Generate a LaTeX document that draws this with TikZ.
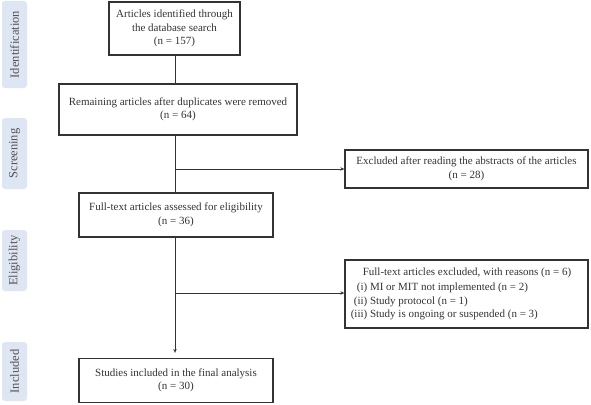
\documentclass[tikz,border=0pt]{standalone}
\usepackage{fontspec}
\setmainfont{Liberation Serif}
\usetikzlibrary{arrows.meta}
\definecolor{phase}{HTML}{DFE6F3}
\definecolor{ink}{HTML}{333333}
\tikzset{
  flowbox/.style={draw=ink,line width=1.3pt,text=ink,align=center,inner sep=2pt,
    font=\fontsize{11}{13.5}\selectfont},
  phasebox/.style={fill=phase,rounded corners=3pt,rotate=90,text=ink!85,
    minimum height=25pt,inner sep=0pt,font=\fontsize{12.5}{14}\selectfont},
  link/.style={draw=ink,line width=0.8pt},
}
\begin{document}
\begin{tikzpicture}[x=1pt,y=-1pt]
\useasboundingbox (0,0) rectangle (591,404);
% phases on the left
\foreach \y/\len/\name/\txt in {44.5/87/ident/Identification,153.5/71/screen/Screening,260.5/61/elig/Eligibility,371.5/59/incl/Included}
{
\node[phasebox,minimum width=\len pt] (\name) at (14.5,\y) {\txt};
}
% main column
\node[flowbox,minimum width=131pt,minimum height=53pt] (found) at (174.5,28.5) {Articles identified through\\the database search\\(n = 157)};
\node[flowbox,minimum width=238pt,minimum height=51pt] (dedup) at (178,109.5) {Remaining articles after duplicates were removed\\(n = 64)};
\node[flowbox,minimum width=194pt,minimum height=44pt] (full) at (176,215) {Full-text articles assessed for eligibility\\(n = 36)};
\node[flowbox,minimum width=194pt,minimum height=44pt] (final) at (176,380.5) {Studies included in the final analysis\\(n = 30)};
% exclusions
\node[flowbox,minimum width=243pt,minimum height=38pt] (exabs) at (466.5,169) {Excluded after reading the abstracts of the articles\\(n = 28)};
\node[flowbox,minimum width=243pt,minimum height=68pt] (exfull) at (466.5,294) {\begin{tabular}{@{}r@{\ }l@{}}
\multicolumn{2}{@{\hspace{12pt}}l@{\hspace{11pt}}}{Full-text articles excluded, with reasons (n = 6)}\\[2pt]
(i) & MI or MIT not implemented (n = 2)\\
(ii) & Study protocol (n = 1)\\
(iii) & Study is ongoing or suspended (n = 3)
\end{tabular}};
\coordinate (b1) at (175,169);
\coordinate (b2) at (175,293);
\draw[link] (found.south -| b1) -- (dedup.north -| b1);
\draw[link] (dedup.south -| b1) -- (full.north -| b1);
\draw[link,-{Stealth[length=4pt,width=3.5pt]},shorten >=5pt] (full.south -| b1) -- (final.north -| b1);
\draw[link,-{Stealth[length=4pt,width=3.5pt]}] (b1) -- (exabs.west |- b1);
\draw[link,-{Stealth[length=4pt,width=3.5pt]}] (b2) -- (exfull.west |- b2);
\end{tikzpicture}
\end{document}
